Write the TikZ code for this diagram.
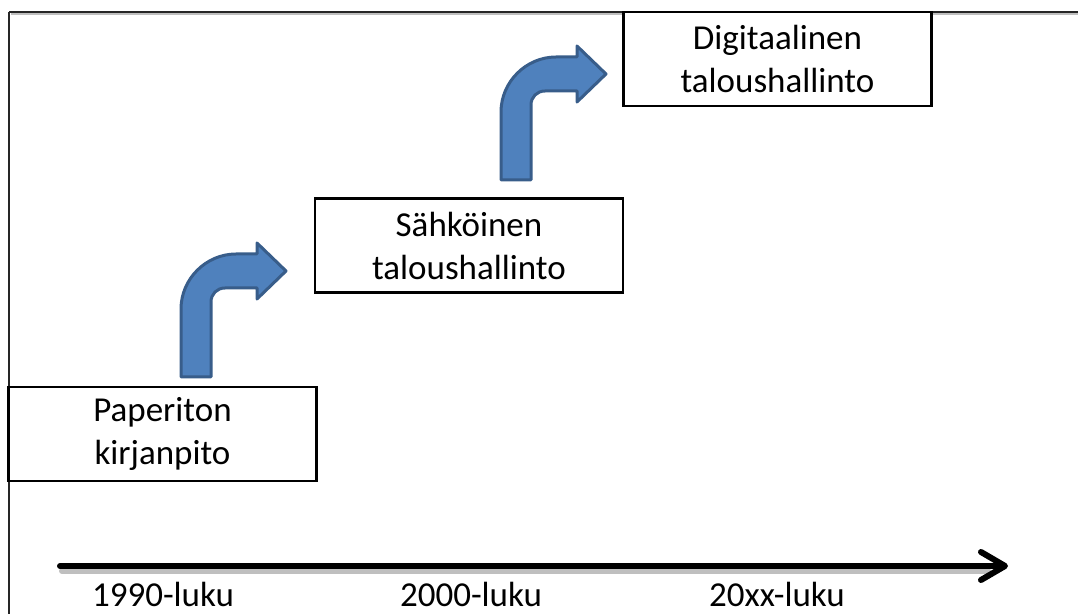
\documentclass[tikz,border=0pt]{standalone}
\usepackage{fontspec}
\setmainfont{Carlito}
\usepackage{tikz}
\usetikzlibrary{arrows.meta}
\definecolor{stepblue}{HTML}{4F81BD}
\definecolor{stepedge}{HTML}{385D8A}
\definecolor{framegray}{HTML}{262626}

\tikzset{
  stagebox/.style={draw=black, line width=1.2pt, fill=white, minimum width=154pt,
    minimum height=47pt, align=center, inner sep=0pt},
  yearlabel/.style={anchor=base},
  bentarrow/.pic={
    \draw[stepblue, fill=stepblue, draw=stepedge, line width=1.5pt, line join=round]
      (0,0) -- (0,-68) .. controls (0,-98) and (25,-123) .. (55,-123)
      -- (76,-123) -- (76,-134) -- (105,-106) -- (76,-78) -- (76,-89)
      -- (44,-89) .. controls (36,-89) and (30,-83) .. (30,-75) -- (30,0) -- cycle;
  }
}

\begin{document}
\begin{tikzpicture}[x=0.5pt,y=-0.5pt,font=\fontsize{17.5}{21.5}\selectfont]
  \useasboundingbox (0,0) rectangle (1078,614);
  \clip (0,0) rectangle (1078,614);
  % kehys
  \draw[gray!50, line width=1pt] (11,14) -- (1078,14);
  \draw[framegray, line width=1pt] (9,12) -- (1078,12);
  \draw[framegray, line width=1pt] (9,12) -- (9,614);
  % vaiheet
  \node[stagebox] (paperiton) at (162.5,434) {Paperiton\\kirjanpito};
  \node[stagebox] (sahkoinen) at (469,245.5) {Sähköinen\\taloushallinto};
  \node[stagebox] (digitaalinen) at (777.5,59) {Digitaalinen\\taloushallinto};
  % nuolet
  \pic at (181,377) {bentarrow};
  \pic at (501,180) {bentarrow};
  % aikajana
  \coordinate (tstart) at (60,566);
  \coordinate (tend) at (1008,566);
  \draw[black!25, line width=3pt, line cap=round] ([shift={(2,5)}]tstart) -- ([shift={(-20,5)}]tend);
  \draw[line width=3pt, line cap=round, -{Straight Barb[length=12pt,width=14pt,round]}] (tstart) -- (tend);
  \node[yearlabel] (l1990) at (163,607) {1990-luku};
  \node[yearlabel] (l2000) at (471,607) {2000-luku};
  \node[yearlabel] (l20xx) at (777,607) {20xx-luku};
\end{tikzpicture}
\end{document}
